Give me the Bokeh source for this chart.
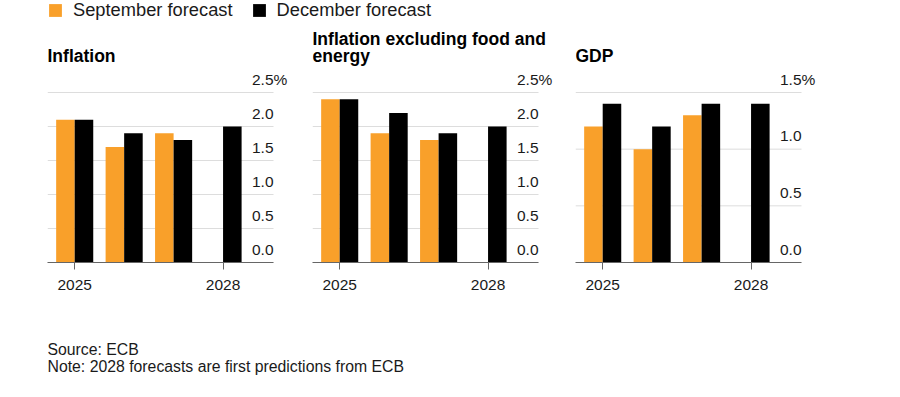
import numpy as np
from bokeh.plotting import figure
from bokeh.layouts import column, row
from bokeh.models import (Range1d, FixedTicker, Legend, LegendItem, LabelSet,
                          ColumnDataSource)
from bokeh.core.properties import value
from bokeh.embed import file_html
from bokeh.resources import INLINE

# ---------------- data ----------------
years = [2025, 2026, 2027, 2028]
sep_years = [2025, 2026, 2027]

titles = [["Inflation"], ["Inflation excluding food and", "energy"], ["GDP"]]
sep_values = [
    [2.1, 1.7, 1.9],   # Inflation
    [2.4, 1.9, 1.8],   # Inflation excl. food and energy
    [1.2, 1.0, 1.3],   # GDP
]
dec_values = [
    [2.1, 1.9, 1.8, 2.0],
    [2.4, 2.2, 1.9, 2.0],
    [1.4, 1.2, 1.4, 1.4],
]
y_ticks = [
    [0.0, 0.5, 1.0, 1.5, 2.0, 2.5],
    [0.0, 0.5, 1.0, 1.5, 2.0, 2.5],
    [0.0, 0.5, 1.0, 1.5],
]
x_ticks = [2025, 2028]
series_names = ["September forecast", "December forecast"]
source_note = "Source: ECB"
note_text = "Note: 2028 forecasts are first predictions from ECB"

# ---------------- style ----------------
ORANGE = "#F9A02A"
BLACK = "#000000"
FONT = "Liberation Sans"
TEXT = "#1a1a1a"
GRID = "#dddddd"
AXIS = "#666666"
BAR_W = 0.375
X_START, X_END = 2024.45, 2029.02       # extent of grid lines
GRID_W = 226                            # px of grid line extent
EXTRA = 16                              # px room for the "%" sign
X_FRAME_END = X_END + EXTRA * (X_END - X_START) / GRID_W
FRAME_H = 237
GRID_H = 170
BORDERS = [(47, 4), (19, 4), (17, 4)]
FRAME_W = GRID_W + EXTRA
TOP_B, BOT_B = 3, 43

sep_sources, dec_sources = [], []
panels = []
for i in range(3):
    ymax = y_ticks[i][-1]
    y_end = ymax * FRAME_H / GRID_H
    bl, br = BORDERS[i]
    p = figure(width=bl + FRAME_W + br, height=TOP_B + FRAME_H + BOT_B,
               x_range=Range1d(X_START, X_FRAME_END), y_range=Range1d(0, y_end),
               y_axis_location=None, toolbar_location=None,
               output_backend="svg", outline_line_color=None,
               min_border_left=bl, min_border_right=br,
               min_border_top=TOP_B, min_border_bottom=BOT_B)
    p.grid.visible = False

    grid_src = ColumnDataSource(dict(y=y_ticks[i]))
    p.segment(x0=X_START, x1=X_END, y0="y", y1="y", source=grid_src,
              line_color=GRID, line_width=1)

    ax = p.xaxis[0]
    ax.ticker = FixedTicker(ticks=x_ticks)
    ax.bounds = (X_START, X_END)
    ax.axis_line_color = AXIS
    ax.major_tick_line_color = AXIS
    ax.major_tick_out = 7
    ax.major_tick_in = 0
    ax.minor_tick_line_color = None
    ax.major_label_text_font = FONT
    ax.major_label_text_font_size = "15.5px"
    ax.major_label_text_color = TEXT
    ax.major_label_standoff = 10

    sep_src = ColumnDataSource(dict(x=np.array(sep_years) - BAR_W / 2,
                                    top=sep_values[i]))
    dec_src = ColumnDataSource(dict(x=np.array(years) + BAR_W / 2,
                                    top=dec_values[i]))
    sep_sources.append(sep_src)
    dec_sources.append(dec_src)
    p.vbar(x="x", top="top", width=BAR_W, source=sep_src,
           fill_color=ORANGE, line_color=None)
    p.vbar(x="x", top="top", width=BAR_W, source=dec_src,
           fill_color=BLACK, line_color=None)

    labels = [f"{t:.1f}" for t in y_ticks[i]]
    labels[-1] = labels[-1] + "%"
    lab_src = ColumnDataSource(dict(x=[X_END] * len(labels),
                                    y=y_ticks[i], text=labels))
    ls = LabelSet(x="x", y="y", text="text", source=lab_src,
                  x_offset=-21.5, y_offset=8, text_align="left",
                  text_baseline="alphabetic", text_font=value(FONT),
                  text_font_size="15.5px", text_color=TEXT)
    p.add_layout(ls)

    lines = titles[i]
    n = len(lines)
    offs = [30 - 16.5 * (n - 1 - k) for k in range(n)]
    p.text(x=[X_START] * n, y=[y_end] * n, text=lines, y_offset=offs,
           text_align="left", text_baseline="alphabetic",
           text_font=value(FONT), text_font_style="bold",
           text_font_size="17.5px", text_color=BLACK,
           text_line_height=0.95)
    panels.append(p)

# legend strip: its bar renderers lie far outside its visible ranges,
# so only the legend entries are seen
lf = figure(width=884, height=30, x_range=Range1d(0, 1),
            y_range=Range1d(100, 101),
            x_axis_location=None, y_axis_location=None, toolbar_location=None,
            output_backend="svg", outline_line_color=None,
            min_border_left=47, min_border_right=0, min_border_top=7,
            min_border_bottom=0)
lf.grid.visible = False
r1 = lf.vbar(x="x", top="top", width=BAR_W, source=sep_sources[0],
             fill_color=ORANGE, line_color=None)
r2 = lf.vbar(x="x", top="top", width=BAR_W, source=dec_sources[0],
             fill_color=BLACK, line_color=None)
leg = Legend(items=[LegendItem(label=series_names[0], renderers=[r1]),
                    LegendItem(label=series_names[1], renderers=[r2])],
             orientation="horizontal", location="top_left", margin=0,
             padding=0, border_line_color=None, background_fill_alpha=0,
             label_text_font=FONT, label_text_font_size="18.3px",
             label_text_color=TEXT, glyph_width=16, glyph_height=16,
             label_standoff=10, spacing=18)
lf.add_layout(leg)

# footnote strip
FW, FH = 884, 76
ff = figure(width=FW, height=FH, x_range=Range1d(0, FW - 47),
            y_range=Range1d(FH, 0),
            x_axis_location=None, y_axis_location=None, toolbar_location=None,
            output_backend="svg", outline_line_color=None, min_border=0,
            min_border_left=47)
ff.grid.visible = False
ff.text(x=[0, 0], y=[44, 61], text=[source_note, note_text],
        text_align="left", text_baseline="alphabetic",
        text_font=value(FONT), text_font_size="15.8px", text_color=TEXT)

layout = column(lf, row(*panels), ff, margin=(-8, 0, 0, 0))
open("out.html", "w").write(file_html(layout, INLINE))
